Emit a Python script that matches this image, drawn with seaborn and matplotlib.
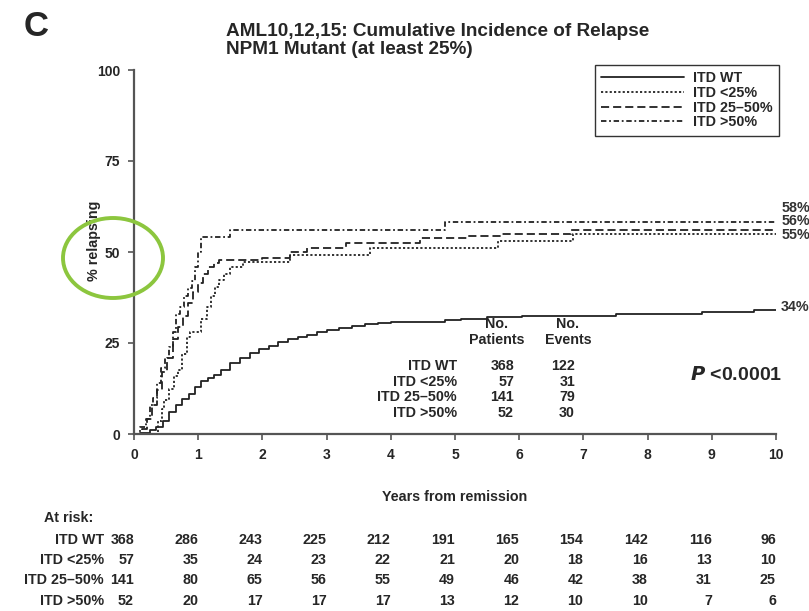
import numpy as np
import pandas as pd
import matplotlib
matplotlib.use("Agg")
import matplotlib.pyplot as plt
from matplotlib import font_manager
from matplotlib.patches import Ellipse
import matplotlib.transforms as mtrans
import seaborn as sns

# ---------------- data ----------------
groups = ["ITD WT", "ITD <25%", "ITD 25–50%", "ITD >50%"]

wt_t = [0, 0.1, 0.25, 0.35, 0.45, 0.55, 0.65, 0.75, 0.85, 0.95, 1.05, 1.15, 1.25, 1.35,
        1.5, 1.65, 1.8, 1.95, 2.1, 2.25, 2.4, 2.55, 2.7, 2.85, 3.0, 3.2, 3.4, 3.6, 3.8,
        4.0, 4.4, 4.85, 5.1, 5.5, 6.05, 7.5, 8.85, 9.65, 10.0]
wt_p = [0, 0.3, 1.1, 2.0, 3.5, 6.0, 8.0, 9.5, 11.0, 13.0, 14.5, 15.5, 16.2, 17.5,
        19.5, 21.0, 22.3, 23.3, 24.3, 25.2, 26.0, 26.7, 27.3, 28.0, 28.5, 29.0, 29.6, 30.2, 30.5,
        30.7, 30.9, 31.3, 31.7, 32.1, 32.5, 33.1, 33.6, 34.0, 34.0]

lt25_t = [0, 0.38, 0.43, 0.47, 0.55, 0.62, 0.68, 0.75, 0.82, 0.88, 1.05, 1.13, 1.2, 1.26,
          1.33, 1.4, 1.5, 1.7, 2.43, 3.68, 5.67, 6.84, 10.0]
lt25_p = [0, 3.5, 7.0, 9.3, 12.5, 15.8, 17.6, 22.0, 26.7, 28.0, 31.5, 35.0, 38.0, 40.5,
          42.2, 44.0, 45.8, 47.3, 49.2, 51.2, 53.0, 55.0, 55.0]

mid_t = [0, 0.12, 0.2, 0.28, 0.36, 0.44, 0.52, 0.6, 0.68, 0.76, 0.84, 0.92, 1.0, 1.08,
         1.16, 1.24, 1.32, 2.0, 2.43, 2.7, 3.3, 4.45, 5.2, 5.73, 6.8, 10.0]
mid_p = [0, 1.5, 4.0, 8.0, 12.0, 17.0, 21.0, 26.0, 29.5, 32.5, 36.0, 39.0, 41.5, 44.0,
         46.0, 47.0, 47.8, 48.3, 50.0, 51.0, 52.4, 53.8, 54.4, 54.9, 56.0, 56.0]

gt50_t = [0, 0.1, 0.18, 0.25, 0.3, 0.36, 0.42, 0.48, 0.54, 0.6, 0.66, 0.72, 0.78, 0.84,
          0.9, 0.95, 1.0, 1.05, 1.5, 4.84, 10.0]
gt50_p = [0, 2.0, 4.0, 8.0, 10.0, 14.0, 18.0, 21.0, 24.0, 28.0, 33.0, 35.0, 38.0, 40.0,
          42.0, 46.0, 50.0, 54.2, 56.0, 58.3, 58.3]

end_labels = ["58%", "56%", "55%", "34%"]
end_label_y = [62.0, 58.4, 54.8, 34.8]

n_patients = [368, 57, 141, 52]
n_events = [122, 31, 79, 30]

risk_years = list(range(0, 11))
risk_wt = [368, 286, 243, 225, 212, 191, 165, 154, 142, 116, 96]
risk_lt25 = [57, 35, 24, 23, 22, 21, 20, 18, 16, 13, 10]
risk_mid = [141, 80, 65, 56, 55, 49, 46, 42, 38, 31, 25]
risk_gt50 = [52, 20, 17, 17, 17, 13, 12, 10, 10, 7, 6]

# ---------------- style ----------------
sns.set_style("white")
avail = {f.name for f in font_manager.fontManager.ttflist}
fam = "Liberation Sans Narrow" if "Liberation Sans Narrow" in avail else "Liberation Sans"
plt.rcParams["font.family"] = [fam, "DejaVu Sans"]
plt.rcParams["font.weight"] = "bold"

FS = 10.3

frames = []
for g, t, p in zip(groups, [wt_t, lt25_t, mid_t, gt50_t], [wt_p, lt25_p, mid_p, gt50_p]):
    frames.append(pd.DataFrame({"group": g, "years": t, "pct": p}))
df = pd.concat(frames, ignore_index=True)

fig = plt.figure(figsize=(8.09, 6.11), dpi=100)
ax = fig.add_axes([134 / 809, 1 - 434 / 611, 642 / 809, 364 / 611])

dashes = {"ITD WT": "", "ITD <25%": (1.2, 1.2), "ITD 25–50%": (4.5, 2.2),
          "ITD >50%": (3, 1.5, 1, 1.5)}
sns.lineplot(data=df, x="years", y="pct", style="group", style_order=groups,
             dashes=dashes, color="#222222", linewidth=1.3, drawstyle="steps-post",
             estimator=None, sort=False, ax=ax)

ax.set_xlim(0, 10)
ax.set_ylim(0, 100)
ax.set_xticks(range(0, 11))
ax.set_yticks([0, 25, 50, 75, 100])
for s in ["top", "right"]:
    ax.spines[s].set_visible(False)
for s in ["left", "bottom"]:
    ax.spines[s].set_color("#555555")
    ax.spines[s].set_linewidth(1.6)
ax.tick_params(axis="both", direction="out", length=4, width=1.2, color="#555555",
               labelsize=10, pad=6, left=True, bottom=True)
for lab in ax.get_xticklabels() + ax.get_yticklabels():
    lab.set_fontweight("bold")
ax.set_xlabel("Years from remission", fontsize=FS, fontweight="bold", labelpad=20)
ax.set_ylabel("% relapsing", fontsize=FS, fontweight="bold")
ax.yaxis.set_label_coords(-0.052, 0.53)

handles, labels = ax.get_legend_handles_labels()
leg = ax.legend(handles, labels, loc="upper right", bbox_to_anchor=(1.004, 1.014),
                frameon=True, fancybox=False, edgecolor="black", handlelength=5.8,
                fontsize=FS, borderpad=0.45, labelspacing=0.05, handletextpad=0.6,
                borderaxespad=0)
leg.get_frame().set_linewidth(1.0)
for txt in leg.get_texts():
    txt.set_fontweight("bold")

# end labels
for lab, yv in zip(end_labels, end_label_y):
    ax.text(10.08, yv, lab, ha="left", va="center", fontsize=FS, fontweight="bold",
            color="#333333", clip_on=False)

# inner table
ax.text(5.65, 30.2, "No.", ha="center", va="center", fontsize=FS, fontweight="bold")
ax.text(5.65, 25.8, "Patients", ha="center", va="center", fontsize=FS, fontweight="bold")
ax.text(6.76, 30.2, "No.", ha="center", va="center", fontsize=FS, fontweight="bold")
ax.text(6.76, 25.8, "Events", ha="center", va="center", fontsize=FS, fontweight="bold")
for i, (g, npat, nev) in enumerate(zip(groups, n_patients, n_events)):
    yv = 18.7 - i * 4.3
    ax.text(5.03, yv, g, ha="right", va="center", fontsize=FS, fontweight="bold")
    ax.text(5.92, yv, str(npat), ha="right", va="center", fontsize=FS, fontweight="bold")
    ax.text(6.87, yv, str(nev), ha="right", va="center", fontsize=FS, fontweight="bold")

ax.text(10.1, 16.3, r"$\bfit{P}$ <0.0001", ha="right", va="center", fontsize=14,
        fontweight="bold")

# at-risk table
trans = mtrans.blended_transform_factory(ax.transData, fig.transFigure)
fig.text(93 / 809, 1 - 518 / 611, "At risk:", ha="right", va="center", fontsize=FS,
         fontweight="bold")
rows = [risk_wt, risk_lt25, risk_mid, risk_gt50]
row_y = [540, 560, 580, 601]
for g, vals, py in zip(groups, rows, row_y):
    fy = 1 - py / 611
    fig.text(104 / 809, fy, g, ha="right", va="center", fontsize=FS, fontweight="bold")
    for xv, v in zip(risk_years, vals):
        ax.text(xv, fy, str(v), ha="right", va="center", fontsize=FS, fontweight="bold",
                transform=trans, clip_on=False)

# titles
fig.text(226 / 809, 1 - 32 / 611, "AML10,12,15: Cumulative Incidence of Relapse",
         ha="left", va="center", fontsize=13.7, fontweight="bold")
fig.text(226 / 809, 1 - 50 / 611, "NPM1 Mutant (at least 25%)",
         ha="left", va="center", fontsize=13.7, fontweight="bold")
fig.text(24 / 809, 1 - 26 / 611, "C", ha="left", va="center", fontsize=25,
         fontweight="bold")

# green annotation ellipse
ell = Ellipse((113 / 809, 1 - 258 / 611), 100 / 809, 80 / 611, transform=fig.transFigure,
              fill=False, edgecolor="#8cc63e", linewidth=2.8)
fig.patches.append(ell)

fig.savefig("out.png", dpi=100)
